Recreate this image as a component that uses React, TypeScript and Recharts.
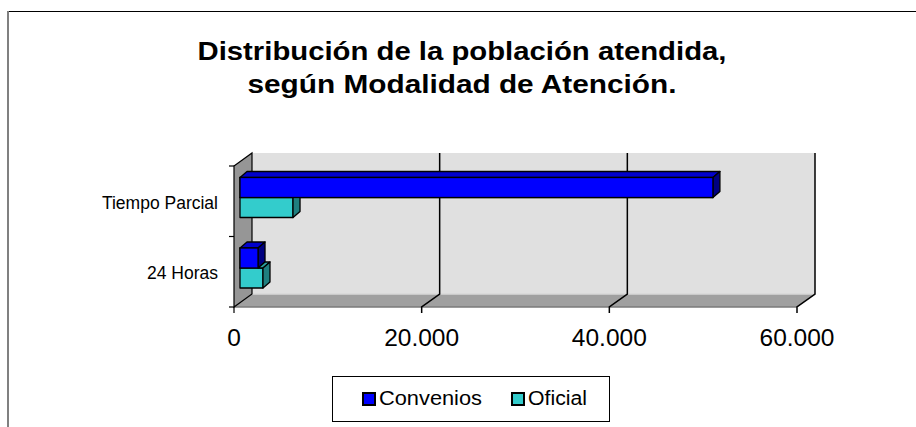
import React from 'react';
import { BarChart, Bar, XAxis, YAxis, ReferenceArea, Legend } from 'recharts';

// values
const categories = ['Tiempo Parcial', '24 Horas'];
const convenios = [50400, 1920];
const oficial = [5650, 2450];
const xTicks = [0, 20000, 40000, 60000];
const xMax = 60000;

const data = categories.map((name, i) => ({ name, convenios: convenios[i], oficial: oficial[i] }));

const FONT = "'Liberation Sans', Arial, sans-serif";
const WALL_DEPTH = { dx: 18, dy: -13 };
const BAR_SHIFT = { dx: 6, dy: -3.5 };
const BAR_DEPTH = { dx: 7, dy: -6 };

const COLORS = {
  convenios: { front: '#0000FF', top: '#0000CC', side: '#000080' },
  oficial: { front: '#33CCCC', top: '#2AA3A3', side: '#1F7F7F' },
};

const fmt = (v: number) => String(v).replace(/\B(?=(\d{3})+(?!\d))/g, '.');

const pts = (list: number[][]) => list.map(p => p.join(',')).join(' ');

// walls, floor and grid of the 3D plot
const Walls = (props: any) => {
  const { x, y, width, height } = props;
  const { dx, dy } = WALL_DEPTH;
  const bottom = y + height;
  const right = x + width;
  return (
    <g>
      <rect x={x + dx} y={y + dy} width={width} height={height} fill="#E0E0E0" />
      <polygon
        points={pts([[x, bottom], [right, bottom], [right + dx, bottom + dy], [x + dx, bottom + dy]])}
        fill="#A0A0A0"
      />
      <line x1={x + dx} y1={bottom + dy} x2={right + dx} y2={bottom + dy} stroke="#D8D8D8" strokeWidth={1.5} />
      <line x1={x} y1={bottom} x2={right} y2={bottom} stroke="#7A7A7A" strokeWidth={1.5} />
      <polygon
        points={pts([[x, y], [x + dx, y + dy], [x + dx, bottom + dy], [x, bottom]])}
        fill="#969696"
        stroke="#000"
        strokeWidth={1.2}
      />
      {xTicks.map(t => {
        const gx = x + (width * t) / xMax;
        if (t === 0) {
          return <line key={t} x1={gx} y1={bottom} x2={gx} y2={bottom + 6} stroke="#000" strokeWidth={1.2} />;
        }
        return (
          <polyline
            key={t}
            points={pts([[gx + dx, y + dy], [gx + dx, bottom + dy], [gx, bottom], [gx, bottom + 6]])}
            fill="none"
            stroke="#000"
            strokeWidth={1.5}
          />
        );
      })}
      {Array.from({ length: categories.length + 1 }, (_, i) => {
        const ty = y + (height * i) / categories.length;
        return <line key={i} x1={x - 5} y1={ty} x2={x} y2={ty} stroke="#000" strokeWidth={1.2} />;
      })}
    </g>
  );
};

const box = (x: number, y: number, w: number, h: number, c: { front: string; top: string; side: string }, topFrom = x) => {
  const { dx, dy } = BAR_DEPTH;
  const r = x + w;
  return (
    <g stroke="#000" strokeWidth={1.3} strokeLinejoin="round">
      <rect x={x} y={y} width={w} height={h} fill={c.front} />
      {topFrom < r && (
        <polygon points={pts([[topFrom, y], [r, y], [r + dx, y + dy], [topFrom + dx, y + dy]])} fill={c.top} />
      )}
      <polygon points={pts([[r, y], [r + dx, y + dy], [r + dx, y + h + dy], [r, y + h]])} fill={c.side} />
    </g>
  );
};

const ConveniosShape = (props: any) => {
  const { x, y, width, height } = props;
  return box(x + BAR_SHIFT.dx, y + BAR_SHIFT.dy, width, height, COLORS.convenios);
};

// oficial sits under convenios: hide what convenios covers in front
const OficialShape = (props: any) => {
  const { x, y, width, height, payload } = props;
  const fx = x + BAR_SHIFT.dx;
  const fy = y + BAR_SHIFT.dy;
  const convW = payload.oficial > 0 ? (width * payload.convenios) / payload.oficial : 0;
  return (
    <g>
      {box(fx, fy, width, height, COLORS.oficial, fx + convW)}
      <rect
        x={fx}
        y={fy - height}
        width={convW}
        height={height}
        fill={COLORS.convenios.front}
        stroke="#000"
        strokeWidth={1.3}
      />
    </g>
  );
};

const XTick = (props: any) => {
  const { x, y, payload } = props;
  return (
    <text x={x} y={y} dy={31} textAnchor="middle" fontSize={24.5} fontFamily={FONT} fill="#000">
      {fmt(payload.value)}
    </text>
  );
};

const YTick = (props: any) => {
  const { x, y, payload } = props;
  return (
    <text x={x} y={y} dx={-8} dy={7.5} textAnchor="end" fontSize={17.5} fontFamily={FONT} fill="#000">
      {payload.value}
    </text>
  );
};

const LegendBox = (props: any) => {
  const items = props.payload || [];
  const widths = [103, 59];
  return (
    <svg width={278} height={46} style={{ display: 'block' }}>
      <rect x={0.5} y={0.5} width={277} height={45} fill="#fff" stroke="#000" strokeWidth={1} />
      {items.map((item: any, i: number) => {
        const ox = 30 + i * 149;
        return (
          <g key={item.value}>
            <rect x={ox + 1} y={17} width={12} height={12} fill={item.color} stroke="#000" strokeWidth={2} />
            <text
              x={ox + 17}
              y={29}
              fontSize={20}
              fontFamily={FONT}
              fill="#000"
              textLength={widths[i]}
              lengthAdjust="spacingAndGlyphs"
            >
              {item.value}
            </text>
          </g>
        );
      })}
    </svg>
  );
};

export default function App() {
  return (
    <div style={{ position: 'absolute', left: 0, top: 0, width: 916, height: 427, background: '#fff', fontFamily: FONT }}>
      <svg width={916} height={427} style={{ position: 'absolute', left: 0, top: 0 }}>
        <line x1={7} y1={11.5} x2={916} y2={11.5} stroke="#000" strokeWidth={1.2} />
        <line x1={8} y1={11} x2={8} y2={427} stroke="#808080" strokeWidth={2} />
        <text x={462} y={60} textAnchor="middle" fontSize={25.5} fontWeight="bold" fontFamily={FONT}
          textLength={529} lengthAdjust="spacingAndGlyphs">
          Distribución de la población atendida,
        </text>
        <text x={462} y={93} textAnchor="middle" fontSize={25.5} fontWeight="bold" fontFamily={FONT}
          textLength={429} lengthAdjust="spacingAndGlyphs">
          según Modalidad de Atención.
        </text>
      </svg>
      <div style={{ position: 'absolute', left: 0, top: 0 }}>
        <BarChart
          width={916}
          height={427}
          data={data}
          layout="vertical"
          barGap={0}
          margin={{ top: 166, right: 119, left: 0, bottom: 90 }}
        >
          <XAxis
            type="number"
            domain={[0, xMax]}
            ticks={xTicks}
            interval={0}
            axisLine={false}
            tickLine={false}
            height={30}
            tick={XTick}
          />
          <YAxis type="category" dataKey="name" width={234} axisLine={false} tickLine={false} tick={YTick} />
          <ReferenceArea x1={0} x2={xMax} shape={Walls} ifOverflow="visible" />
          <Bar
            dataKey="convenios"
            name="Convenios"
            fill={COLORS.convenios.front}
            barSize={20}
            shape={ConveniosShape}
            isAnimationActive={false}
          />
          <Bar
            dataKey="oficial"
            name="Oficial"
            fill={COLORS.oficial.front}
            barSize={20}
            shape={OficialShape}
            isAnimationActive={false}
          />
          <Legend
            layout="vertical"
            align="center"
            verticalAlign="middle"
            wrapperStyle={{ left: 332, top: 376, width: 278, height: 46 }}
            content={LegendBox}
          />
        </BarChart>
      </div>
    </div>
  );
}
